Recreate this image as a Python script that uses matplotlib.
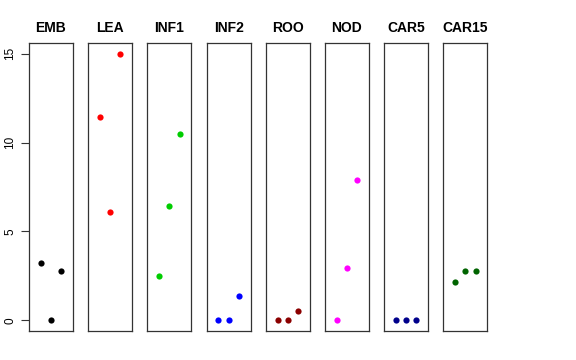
import matplotlib
matplotlib.use("Agg")
import matplotlib.pyplot as plt

plt.rcParams['font.family'] = ['Liberation Sans', 'DejaVu Sans']

groups = ["EMB", "LEA", "INF1", "INF2", "ROO", "NOD", "CAR5", "CAR15"]
colors = ["black", "red", "#00cd00", "blue", "darkred", "magenta", "darkblue", "darkgreen"]
reps = [1, 2, 3]
values = [
    [3.25, 0.0, 2.75],
    [11.45, 6.1, 15.0],
    [2.5, 6.45, 10.5],
    [0.0, 0.0, 1.35],
    [0.0, 0.0, 0.5],
    [0.0, 2.95, 7.9],
    [0.0, 0.0, 0.0],
    [2.15, 2.75, 2.75],
]
yticks = [0, 5, 10, 15]

W, H = 576, 360
fig = plt.figure(figsize=(W / 100, H / 100), dpi=100)

left0, step, width = 29, 59.2, 44
top, bottom = 43, 331
for i, (name, col, vals) in enumerate(zip(groups, colors, values)):
    x0 = left0 + i * step
    ax = fig.add_axes([x0 / W, (H - bottom) / H, width / W, (bottom - top) / H])
    ax.scatter(reps, vals, s=20, color=col, zorder=3, linewidths=0)
    ax.set_xlim(-0.16, 4.16)
    ax.set_ylim(-0.6, 15.6)
    ax.set_xticks([])
    for sp in ax.spines.values():
        sp.set_color("#333333")
        sp.set_linewidth(0.9)
    ax.set_title(name, fontsize=10, fontweight="bold", pad=8)
    if i == 0:
        ax.set_yticks(yticks)
        ax.set_yticklabels([str(t) for t in yticks], rotation=90, va="center", fontsize=8.5)
        ax.tick_params(axis="y", length=6, width=0.8, color="#333333", pad=3)
    else:
        ax.set_yticks([])

fig.savefig("out.png", dpi=100)
